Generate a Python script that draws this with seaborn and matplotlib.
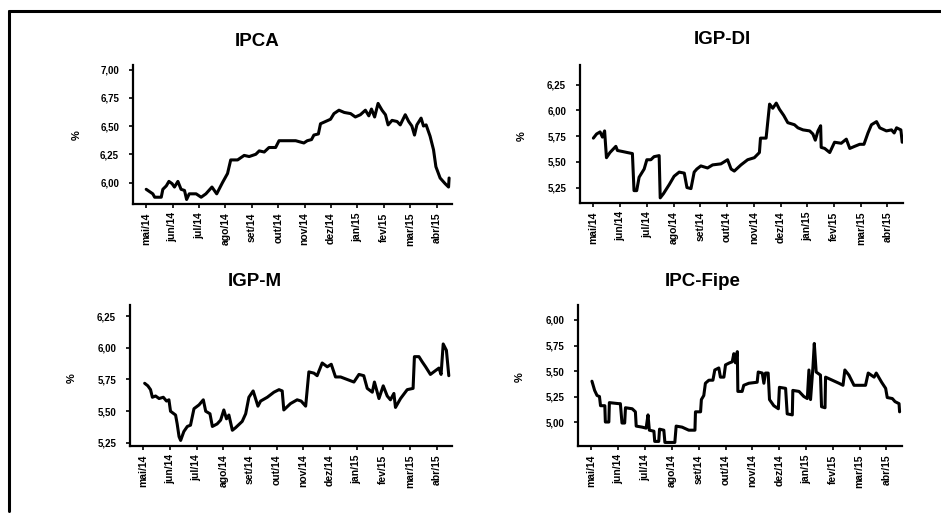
import numpy as np
import pandas as pd
import matplotlib
matplotlib.use('Agg')
import matplotlib.pyplot as plt
import seaborn as sns
from matplotlib.ticker import FuncFormatter
from matplotlib.lines import Line2D

# x positions are in months after mai/14 (0 = mai/14 tick)
meses = ['mai/14', 'jun/14', 'jul/14', 'ago/14', 'set/14', 'out/14',
         'nov/14', 'dez/14', 'jan/15', 'fev/15', 'mar/15', 'abr/15']

ipca_x = [0.00, 0.25, 0.32, 0.57, 0.63, 0.76, 0.86, 0.98,
          1.07, 1.20, 1.32, 1.45, 1.53, 1.63, 1.89,
          2.08, 2.26, 2.49, 2.67, 2.89,
          3.08, 3.20, 3.46, 3.71, 3.90,
          4.15, 4.28, 4.47, 4.65, 4.90,
          5.03, 5.28, 5.66, 5.97,
          6.10, 6.26, 6.35, 6.52, 6.60, 6.79, 6.98,
          7.11, 7.30, 7.50, 7.74, 7.92,
          8.11, 8.30, 8.43, 8.53, 8.65, 8.78, 8.93,
          9.06, 9.16, 9.31, 9.50, 9.62, 9.81, 9.94,
          10.06, 10.16, 10.25, 10.41, 10.50, 10.60, 10.75, 10.88, 10.97,
          11.13, 11.32, 11.45, 11.47]
ipca_y = [5.94, 5.90, 5.87, 5.87, 5.94, 5.97, 6.01, 5.99,
          5.96, 6.01, 5.94, 5.93, 5.85, 5.90, 5.90,
          5.87, 5.90, 5.96, 5.90, 6.00,
          6.08, 6.20, 6.20, 6.24, 6.23,
          6.25, 6.28, 6.27, 6.31, 6.31,
          6.37, 6.37, 6.37, 6.35,
          6.37, 6.38, 6.42, 6.43, 6.52, 6.54, 6.56,
          6.61, 6.64, 6.62, 6.61, 6.58,
          6.60, 6.64, 6.59, 6.65, 6.58, 6.70, 6.64,
          6.60, 6.51, 6.55, 6.54, 6.51, 6.60, 6.54,
          6.50, 6.42, 6.51, 6.57, 6.50, 6.51, 6.41, 6.29, 6.14,
          6.04, 5.99, 5.96, 6.04]

igpdi_x = [0.00, 0.12, 0.25, 0.34, 0.42, 0.46, 0.49, 0.62, 0.84, 0.90,
           1.09, 1.27, 1.46, 1.52, 1.62, 1.71, 1.90, 2.00, 2.15, 2.27,
           2.46, 2.50, 2.62, 2.84, 3.02, 3.21, 3.40, 3.50, 3.65, 3.77,
           3.87, 4.02, 4.27, 4.46, 4.77, 5.02, 5.15, 5.27, 5.52, 5.77,
           6.02, 6.21, 6.25, 6.46, 6.59, 6.71, 6.84, 6.96, 7.12, 7.27,
           7.52, 7.65, 7.84, 8.09, 8.21, 8.30, 8.40, 8.50, 8.52, 8.65,
           8.84, 9.02, 9.27, 9.46, 9.59, 9.77, 9.96, 10.12, 10.27, 10.40,
           10.59, 10.71, 10.96, 11.15, 11.25, 11.34, 11.50, 11.55]
igpdi_y = [5.73, 5.77, 5.79, 5.74, 5.80, 5.65, 5.54, 5.59, 5.65, 5.61,
           5.60, 5.59, 5.58, 5.22, 5.22, 5.35, 5.43, 5.52, 5.52, 5.55,
           5.56, 5.15, 5.19, 5.28, 5.36, 5.40, 5.39, 5.25, 5.24, 5.40,
           5.43, 5.46, 5.44, 5.47, 5.48, 5.52, 5.43, 5.41, 5.47, 5.52,
           5.54, 5.59, 5.73, 5.73, 6.06, 6.02, 6.07, 6.01, 5.95, 5.88,
           5.86, 5.83, 5.81, 5.80, 5.77, 5.71, 5.80, 5.85, 5.64, 5.63,
           5.59, 5.69, 5.68, 5.72, 5.63, 5.65, 5.67, 5.67, 5.78, 5.86,
           5.89, 5.83, 5.80, 5.81, 5.78, 5.83, 5.81, 5.69]

igpm_x = [0.05, 0.17, 0.27, 0.34, 0.46, 0.59, 0.75, 0.87, 0.96, 1.02,
          1.21, 1.27, 1.34, 1.40, 1.52, 1.65, 1.77, 1.90, 2.09, 2.25,
          2.34, 2.50, 2.59, 2.77, 2.90, 3.02, 3.12, 3.21, 3.34, 3.46,
          3.71, 3.84, 3.96, 4.12, 4.21, 4.30, 4.40, 4.65, 4.90, 5.09,
          5.21, 5.27, 5.52, 5.77, 5.92, 6.09, 6.21, 6.40, 6.52, 6.71,
          6.90, 7.05, 7.21, 7.40, 7.65, 7.90, 8.09, 8.27, 8.40, 8.59,
          8.67, 8.84, 9.00, 9.15, 9.27, 9.40, 9.46, 9.65, 9.90, 10.12,
          10.17, 10.34, 10.46, 10.59, 10.77, 10.96, 11.09, 11.17, 11.25, 11.37,
          11.46]
igpm_y = [5.72, 5.70, 5.67, 5.61, 5.62, 5.60, 5.61, 5.58, 5.59, 5.50,
          5.47, 5.40, 5.30, 5.27, 5.34, 5.38, 5.39, 5.52, 5.55, 5.59,
          5.50, 5.48, 5.38, 5.40, 5.43, 5.51, 5.44, 5.47, 5.35, 5.37,
          5.42, 5.48, 5.61, 5.66, 5.60, 5.54, 5.58, 5.61, 5.65, 5.67,
          5.66, 5.51, 5.56, 5.59, 5.58, 5.54, 5.81, 5.80, 5.78, 5.88,
          5.85, 5.87, 5.77, 5.77, 5.75, 5.73, 5.79, 5.78, 5.68, 5.65,
          5.73, 5.60, 5.70, 5.62, 5.59, 5.64, 5.53, 5.60, 5.67, 5.68,
          5.93, 5.93, 5.89, 5.85, 5.79, 5.82, 5.84, 5.79, 6.03, 5.98,
          5.78]

fipe_x = [0.02, 0.12, 0.21, 0.30, 0.34, 0.50, 0.52, 0.65, 0.67, 1.02,
          1.08, 1.14, 1.24, 1.27, 1.52, 1.64, 1.67, 1.89, 2.04, 2.11,
          2.16, 2.33, 2.36, 2.51, 2.54, 2.70, 2.74, 3.11, 3.16, 3.38,
          3.63, 3.86, 3.88, 4.07, 4.10, 4.19, 4.25, 4.38, 4.53, 4.60,
          4.75, 4.81, 4.94, 5.00, 5.15, 5.25, 5.31, 5.37, 5.44, 5.46,
          5.62, 5.68, 5.87, 6.18, 6.22, 6.37, 6.43, 6.49, 6.59, 6.64,
          6.80, 6.97, 7.01, 7.24, 7.30, 7.49, 7.51, 7.74, 7.92, 8.05,
          8.11, 8.17, 8.26, 8.31, 8.38, 8.54, 8.58, 8.71, 8.73, 8.98,
          9.23, 9.38, 9.45, 9.60, 9.79, 10.22, 10.32, 10.54, 10.62, 10.82,
          10.97, 11.03, 11.22, 11.32, 11.47, 11.49]
fipe_y = [5.40, 5.31, 5.26, 5.25, 5.16, 5.16, 5.00, 5.00, 5.19, 5.18,
          5.18, 4.99, 4.99, 5.14, 5.13, 5.10, 4.96, 4.95, 4.94, 5.07,
          4.92, 4.91, 4.81, 4.81, 4.93, 4.92, 4.80, 4.80, 4.96, 4.95,
          4.92, 4.92, 5.10, 5.10, 5.22, 5.26, 5.38, 5.41, 5.41, 5.51,
          5.53, 5.44, 5.44, 5.56, 5.58, 5.59, 5.67, 5.58, 5.69, 5.30,
          5.30, 5.36, 5.38, 5.39, 5.49, 5.48, 5.38, 5.48, 5.48, 5.22,
          5.16, 5.13, 5.34, 5.33, 5.08, 5.07, 5.31, 5.30, 5.25, 5.23,
          5.51, 5.22, 5.54, 5.77, 5.49, 5.46, 5.15, 5.14, 5.44, 5.41,
          5.38, 5.36, 5.51, 5.46, 5.36, 5.36, 5.48, 5.44, 5.48, 5.39,
          5.33, 5.24, 5.23, 5.20, 5.18, 5.10]

sns.set_style('ticks')
plt.rcParams['font.family'] = ['Liberation Sans', 'DejaVu Sans']
plt.rcParams['text.color'] = 'black'
plt.rcParams['xtick.color'] = 'black'
plt.rcParams['ytick.color'] = 'black'

W, H = 941, 519
fig = plt.figure(figsize=(W / 100, H / 100), dpi=100)


def px_rect(left, top, right, bottom):
    return [left / W, 1 - bottom / H, (right - left) / W, (bottom - top) / H]


virgula = FuncFormatter(lambda v, p: ('%.2f' % v).replace('.', ','))

# title, x, y, ylim, yticks, axes box (px), title pos (px), % pos (px)
paineis = [
    ('IPCA', ipca_x, ipca_y, (5.81, 7.04), [6.00, 6.25, 6.50, 6.75, 7.00],
     (133, 65, 452, 204), (257, 42), (77, 135)),
    ('IGP-DI', igpdi_x, igpdi_y, (5.10, 6.44), [5.25, 5.50, 5.75, 6.00, 6.25],
     (580, 65, 903, 203), (722, 40), (522, 136)),
    ('IGP-M', igpm_x, igpm_y, (5.226, 6.337), [5.25, 5.50, 5.75, 6.00, 6.25],
     (130, 305, 452, 446), (255, 281), (72, 378)),
    ('IPC-Fipe', fipe_x, fipe_y, (4.765, 6.147), [5.00, 5.25, 5.50, 5.75, 6.00],
     (578, 305, 902, 446), (703, 282), (520, 377)),
]

for titulo, xs, ys, ylim, yticks, box, tpos, ppos in paineis:
    ax = fig.add_axes(px_rect(*box))
    sns.lineplot(x=xs, y=ys, ax=ax, color='black', linewidth=2.2,
                 estimator=None, sort=False)
    ax.set_xlim(-0.5, 11.58)
    ax.set_ylim(*ylim)
    ax.set_yticks(yticks)
    ax.yaxis.set_major_formatter(virgula)
    ax.set_xticks(range(len(meses)))
    ax.set_xticklabels(meses, rotation=90)
    for s in ['top', 'right']:
        ax.spines[s].set_visible(False)
    for s in ['left', 'bottom']:
        ax.spines[s].set_linewidth(1.6)
        ax.spines[s].set_color('black')
    ax.tick_params(axis='y', length=3, width=1.2, pad=7, labelsize=7)
    ax.tick_params(axis='x', length=3, width=1.2, pad=3, labelsize=7.5)
    for lab in ax.get_xticklabels() + ax.get_yticklabels():
        lab.set_fontweight('bold')
    ax.set_xlabel('')
    ax.set_ylabel('')
    fig.text(tpos[0] / W, 1 - tpos[1] / H, titulo, ha='center', va='center',
             fontsize=13.5, fontweight='bold', color='black')
    fig.text(ppos[0] / W, 1 - ppos[1] / H, '%', ha='center', va='center',
             rotation=90, fontsize=8, fontweight='bold', color='black')

# scanned frame around the figure
fig.add_artist(Line2D([9 / W, 1.0], [1 - 11 / H, 1 - 11 / H],
                      transform=fig.transFigure, color='black', lw=2.2))
fig.add_artist(Line2D([9 / W, 9 / W], [1 - 11 / H, 0.015],
                      transform=fig.transFigure, color='black', lw=2.2))

fig.savefig('out.png', dpi=100, facecolor='white')
